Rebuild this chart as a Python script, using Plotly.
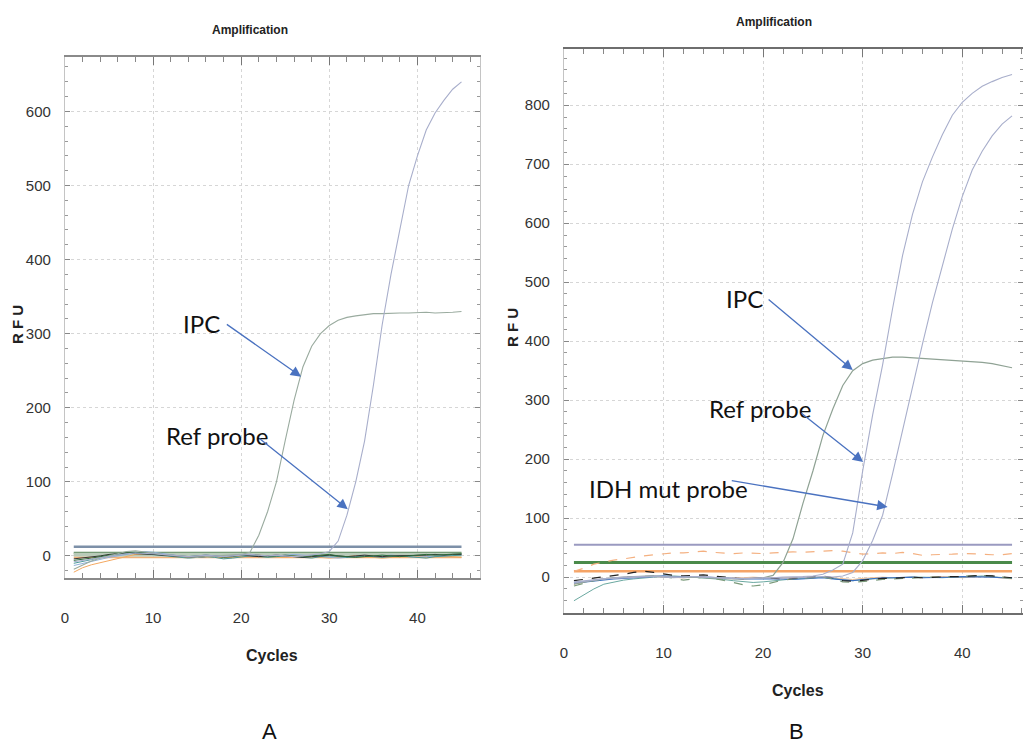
import plotly.graph_objects as go

# ---------------- data ----------------
cycles = list(range(1, 46))

# Panel A
a_ipc = [-18, -12, -7, -3, 0, 3, 6, 7, 6, 4, 2, 1, 0, -1, -2, -1, 0, 1, 1, 2,
         5, 28, 60, 100, 156, 210, 255, 283, 300, 311, 318, 322, 324, 326, 327,
         327, 328, 328, 328, 329, 329, 328, 328, 329, 330]
a_ref = [-8, -6, -4, -2, 0, 2, 3, 4, 4, 3, 2, 1, 0, -1, 0, 1, 0, -1, 0, 1,
         2, 1, 0, 1, 0, -1, 0, 1, 3, 6, 20, 55, 100, 155, 230, 312, 380, 440,
         500, 540, 575, 598, 615, 630, 640]
a_noise_orange = [-22, -16, -12, -9, -6, -3, 0, 2, 3, 2, 1, 0, -1, -2, -1, 0, -2, -3, -2, -1,
                  0, 1, 0, -1, -2, -1, 0, -1, -2, -3, -2, -1, 0, -1, -2, -3, -2, -1, 0, -1,
                  -2, -1, 0, -1, -2]
a_noise_green = [-6, -5, -3, -1, 1, 3, 5, 5, 4, 3, 2, 1, 0, -1, 0, 1, 0, -2, -1, 1,
                 2, 1, -1, 0, 1, 0, -1, 0, 1, 2, 0, -1, -2, -1, 0, 1, 0, -1, 0, 1,
                 2, 1, 2, 3, 3]
a_noise_black = [-4, -3, -2, 0, 2, 3, 4, 3, 3, 2, 1, 0, 0, -1, -2, -1, 0, -1, 0, 1,
                 0, -1, 0, 1, 0, -1, -2, -1, 0, 1, 0, -1, 0, 1, 0, -1, 0, 0, 1, 0,
                 1, 2, 1, 2, 2]
a_noise_teal = [-10, -8, -5, -2, 0, 2, 3, 4, 3, 1, 0, -1, -2, -3, -2, -1, -2, -4, -3, -1,
                0, -1, -2, -1, 0, -1, -2, -3, -1, 0, -1, -2, -1, 0, -1, -2, -1, 0, -1, -2,
                -3, -1, 0, 1, 1]
a_noise_lightblue = [-13, -10, -7, -4, -2, 0, 2, 5, 6, 5, 3, 1, 0, -1, 0, 1, 0, -1, 0, 2,
                     1, 0, -1, 0, 1, 2, 1, 0, -1, -2, -3, -2, -1, 0, -1, 0, 1, 0, -1, -2,
                     -1, 0, 1, 2, 2]
a_thresholds = [12.5, 4, 1.5, -2]

# Panel B
b_ipc = [-12, -8, -5, -3, -1, 0, 1, 2, 2, 1, 0, -1, 0, -1, -2, -2, -3, -3, -2, -1,
         3, 25, 65, 125, 180, 240, 285, 325, 350, 362, 368, 371, 373, 373, 372,
         371, 370, 369, 368, 367, 366, 364, 362, 359, 355]
b_ref = [-8, -6, -4, -2, -1, 0, 1, 1, 2, 1, 0, 0, 1, 0, -1, -1, -2, -2, -2, -1,
         -1, 0, 0, 1, 2, 5, 12, 22, 75, 180, 275, 360, 455, 545, 615, 670, 712,
         750, 783, 805, 820, 832, 840, 847, 852]
b_idh = [-10, -7, -5, -3, -2, -1, 0, 1, 1, 0, -1, 0, 1, 0, -1, -2, -2, -3, -2, -1,
         -1, -2, -1, 0, 0, 1, 0, 2, 8, 28, 62, 105, 175, 250, 320, 395, 465, 530,
         590, 645, 690, 722, 748, 768, 782]
b_noise_teal = [-40, -30, -20, -12, -8, -5, -3, -1, 0, 1, 2, 1, 0, -1, -2, -4, -6, -8, -9, -8,
                -6, -4, -3, -2, -1, 0, -2, -5, -6, -4, -3, -2, -1, -1, 0, 0, -1, -1, 0, 0,
                1, 2, 1, -1, -2]
b_noise_blue = [-10, -8, -6, -4, -3, -2, -1, 0, 1, 2, 1, 0, 1, 0, -1, -2, -2, -3, -3, -3,
                -2, -3, -4, -3, -2, -1, -3, -5, -6, -4, -2, -1, -1, 0, 0, -1, -1, 0, 0, 1,
                1, 1, 0, -1, -1]
b_noise_black = [-6, -4, -2, 0, 2, 5, 8, 10, 8, 5, 3, 2, 3, 4, 2, 0, -2, -3, -2, -1,
                 -2, -3, -2, -1, 0, 2, -1, -6, -7, -5, -3, -2, -2, -1, 0, -1, 0, 0, 1, 1,
                 2, 3, 2, 0, -1]
b_noise_greengray = [-15, -10, -6, -3, -1, 0, 1, 2, 2, 1, -2, -5, -3, 0, -2, -5, -9, -13, -15, -13,
                     -9, -5, -3, -2, -1, 0, -3, -8, -9, -7, -5, -4, -3, -2, -1, -1, 0, 0, 1, 1,
                     2, 3, 2, 0, -2]
b_noise_orange = [-12, -8, -5, -3, -2, -1, 0, 0, 1, 0, -1, -1, 0, 0, -1, -2, -2, -1, 0, -1,
                  -2, -1, 0, 0, -1, 0, -1, -3, -4, -2, -1, 0, -1, 0, 0, -1, 0, 1, 0, -1,
                  0, 1, 0, -2, -3]
b_upper_orange = [10, 15, 22, 26, 29, 31, 34, 36, 38, 40, 41, 41, 43, 44, 42, 41, 40, 41, 40, 40,
                  41, 42, 43, 42, 43, 44, 45, 44, 41, 39, 40, 41, 40, 42, 40, 37, 38, 38, 39, 40,
                  40, 39, 38, 38, 40]
b_thresholds = [55, 25, 10]

x_ticks = [0, 10, 20, 30, 40]
a_y_ticks = [0, 100, 200, 300, 400, 500, 600]
b_y_ticks = [0, 100, 200, 300, 400, 500, 600, 700, 800]

# ---------------- figure ----------------
fig = go.Figure()
SANS = "Liberation Sans, Arial, sans-serif"
LABEL = "Lato, Liberation Sans, sans-serif"


def add_line(y, xa, ya, color, width=1.0, dash="solid"):
    fig.add_trace(go.Scatter(x=cycles, y=y, mode="lines", xaxis=xa, yaxis=ya,
                             line=dict(color=color, width=width, dash=dash),
                             showlegend=False, hoverinfo="skip"))


def add_threshold(v, xa, ya, color, width):
    fig.add_trace(go.Scatter(x=[cycles[0], cycles[-1]], y=[v, v], mode="lines",
                             xaxis=xa, yaxis=ya, line=dict(color=color, width=width),
                             showlegend=False, hoverinfo="skip"))


# Panel A
a_thr_colors = ["#7d90a8", "#5f8a60", "#b9cbb9", "#f2b27a"]
a_thr_widths = [2.5, 2.5, 4, 1.5]
for v, c, w in zip(a_thresholds, a_thr_colors, a_thr_widths):
    add_threshold(v, "x", "y", c, w)
add_line(a_noise_orange, "x", "y", "#f4a860", 1)
add_line(a_noise_lightblue, "x", "y", "#8fb0d8", 1)
add_line(a_noise_teal, "x", "y", "#4a9a9a", 1)
add_line(a_noise_black, "x", "y", "#333333", 1)
add_line(a_noise_green, "x", "y", "#2e6b3a", 1)
add_line(a_ipc, "x", "y", "#9aab9f", 1.1)
add_line(a_ref, "x", "y", "#a8aecb", 1.1)

# Panel B
b_thr_colors = ["#9a9ac0", "#4a8a4a", "#f5a466"]
b_thr_widths = [2, 3, 2.5]
for v, c, w in zip(b_thresholds, b_thr_colors, b_thr_widths):
    add_threshold(v, "x2", "y2", c, w)
add_line(b_upper_orange, "x2", "y2", "#f4b080", 1.2, "dash")
add_line(b_noise_orange, "x2", "y2", "#f4c090", 1)
add_line(b_noise_teal, "x2", "y2", "#6aa8a0", 1)
add_line(b_noise_blue, "x2", "y2", "#3a70c0", 1.2)
add_line(b_noise_greengray, "x2", "y2", "#7a9a7a", 1.2, "dash")
add_line(b_noise_black, "x2", "y2", "#222222", 1.2, "dash")
add_line(b_ipc, "x2", "y2", "#8fa294", 1.2)
add_line(b_ref, "x2", "y2", "#a8aecb", 1.1)
add_line(b_idh, "x2", "y2", "#a8aecb", 1.1)

tickfont = dict(family=SANS, size=15, color="#333333")
common_x = dict(tickvals=x_ticks, ticks="inside", ticklen=8, tickcolor="#777777",
                minor=dict(dtick=2, ticks="inside", ticklen=5, tickcolor="#888888", showgrid=False),
                showgrid=True, gridcolor="#d6d6d6", griddash="dot", gridwidth=1,
                showline=True, linewidth=1.5, mirror="allticks",
                zeroline=False, tickfont=tickfont, ticklabelstandoff=25, automargin=False)
common_y = dict(ticks="inside", ticklen=5, tickcolor="#888888",
                minor=dict(dtick=20, ticks="inside", ticklen=3, tickcolor="#999999", showgrid=False),
                showgrid=True, gridcolor="#d6d6d6", griddash="dot", gridwidth=1,
                showline=True, linecolor="#c4c4c4", linewidth=1.2, mirror="allticks",
                zeroline=False, tickfont=tickfont, ticklabelstandoff=10, automargin=False)

fig.update_layout(
    width=1023, height=745,
    margin=dict(l=0, r=0, t=0, b=0, autoexpand=False),
    paper_bgcolor="white", plot_bgcolor="white",
    showlegend=False,
    xaxis=dict(domain=[0.0635, 0.4692], range=[0, 47.1], anchor="y", linecolor="#8a8a8a", **common_x),
    yaxis=dict(domain=[0.224, 0.923], range=[-30, 673], anchor="x", tickvals=a_y_ticks, **common_y),
    xaxis2=dict(domain=[0.5513, 1.0], range=[0, 46.1], anchor="y2", linecolor="#6e6e6e", **common_x),
    yaxis2=dict(domain=[0.177, 0.934], range=[-61, 895], anchor="x2", tickvals=b_y_ticks, **common_y),
)

ann = []
label_font = dict(family=LABEL, size=24, color="#111111")
title_font = dict(family=SANS, size=12, color="#222222")
axis_font = dict(family=SANS, size=16, color="#222222")
rfu_font = dict(family=SANS, size=15, color="#222222")


def text(xp, yp, s, font, angle=0):
    ann.append(dict(x=xp, y=yp, xref="paper", yref="paper", text=s, showarrow=False,
                    font=font, textangle=angle, xanchor="center", yanchor="middle"))


text(0.2444, 0.9597, "<b>Amplification</b>", title_font)
text(0.7566, 0.9705, "<b>Amplification</b>", title_font)
text(0.0176, 0.5638, "<b>R F U</b>", rfu_font, -90)
text(0.5005, 0.5597, "<b>R F U</b>", rfu_font, -90)
text(0.2659, 0.1195, "<b>Cycles</b>", axis_font)
text(0.7800, 0.0738, "<b>Cycles</b>", axis_font)
text(0.2639, 0.0185, "A", dict(family=SANS, size=22, color="#111111"))
text(0.7790, 0.0185, "B", dict(family=SANS, size=22, color="#111111"))


def label(xa, ya, x, y, s):
    ann.append(dict(x=x, y=y, xref=xa, yref=ya, text=s, showarrow=False, font=label_font,
                    xanchor="center", yanchor="middle"))


def arrow(xa, ya, tail, tip):
    ann.append(dict(x=tip[0], y=tip[1], ax=tail[0], ay=tail[1], xref=xa, yref=ya,
                    axref=xa, ayref=ya, text="", showarrow=True, arrowhead=2,
                    arrowsize=1.6, arrowwidth=1.3, arrowcolor="#4a72c0", standoff=0))


label("x", "y", 15.5, 314, "IPC")
arrow("x", "y", (18.2, 314), (26.8, 242))
label("x", "y", 17.3, 163, "Ref probe")
arrow("x", "y", (21.9, 160), (32.1, 63))

label("x2", "y2", 18.1, 473, "IPC")
arrow("x2", "y2", (20.4, 473), (29.0, 351))
label("x2", "y2", 19.7, 286, "Ref probe")
arrow("x2", "y2", (23.7, 280), (30.05, 195))
label("x2", "y2", 10.5, 151, "IDH mut probe")
arrow("x2", "y2", (16.7, 164), (32.5, 119))

fig.update_layout(annotations=ann)
fig.write_html(
    "out.html",
    config={"displayModeBar": False},
    post_script="document.body.style.margin='0px';document.body.style.overflow='hidden';",
)
